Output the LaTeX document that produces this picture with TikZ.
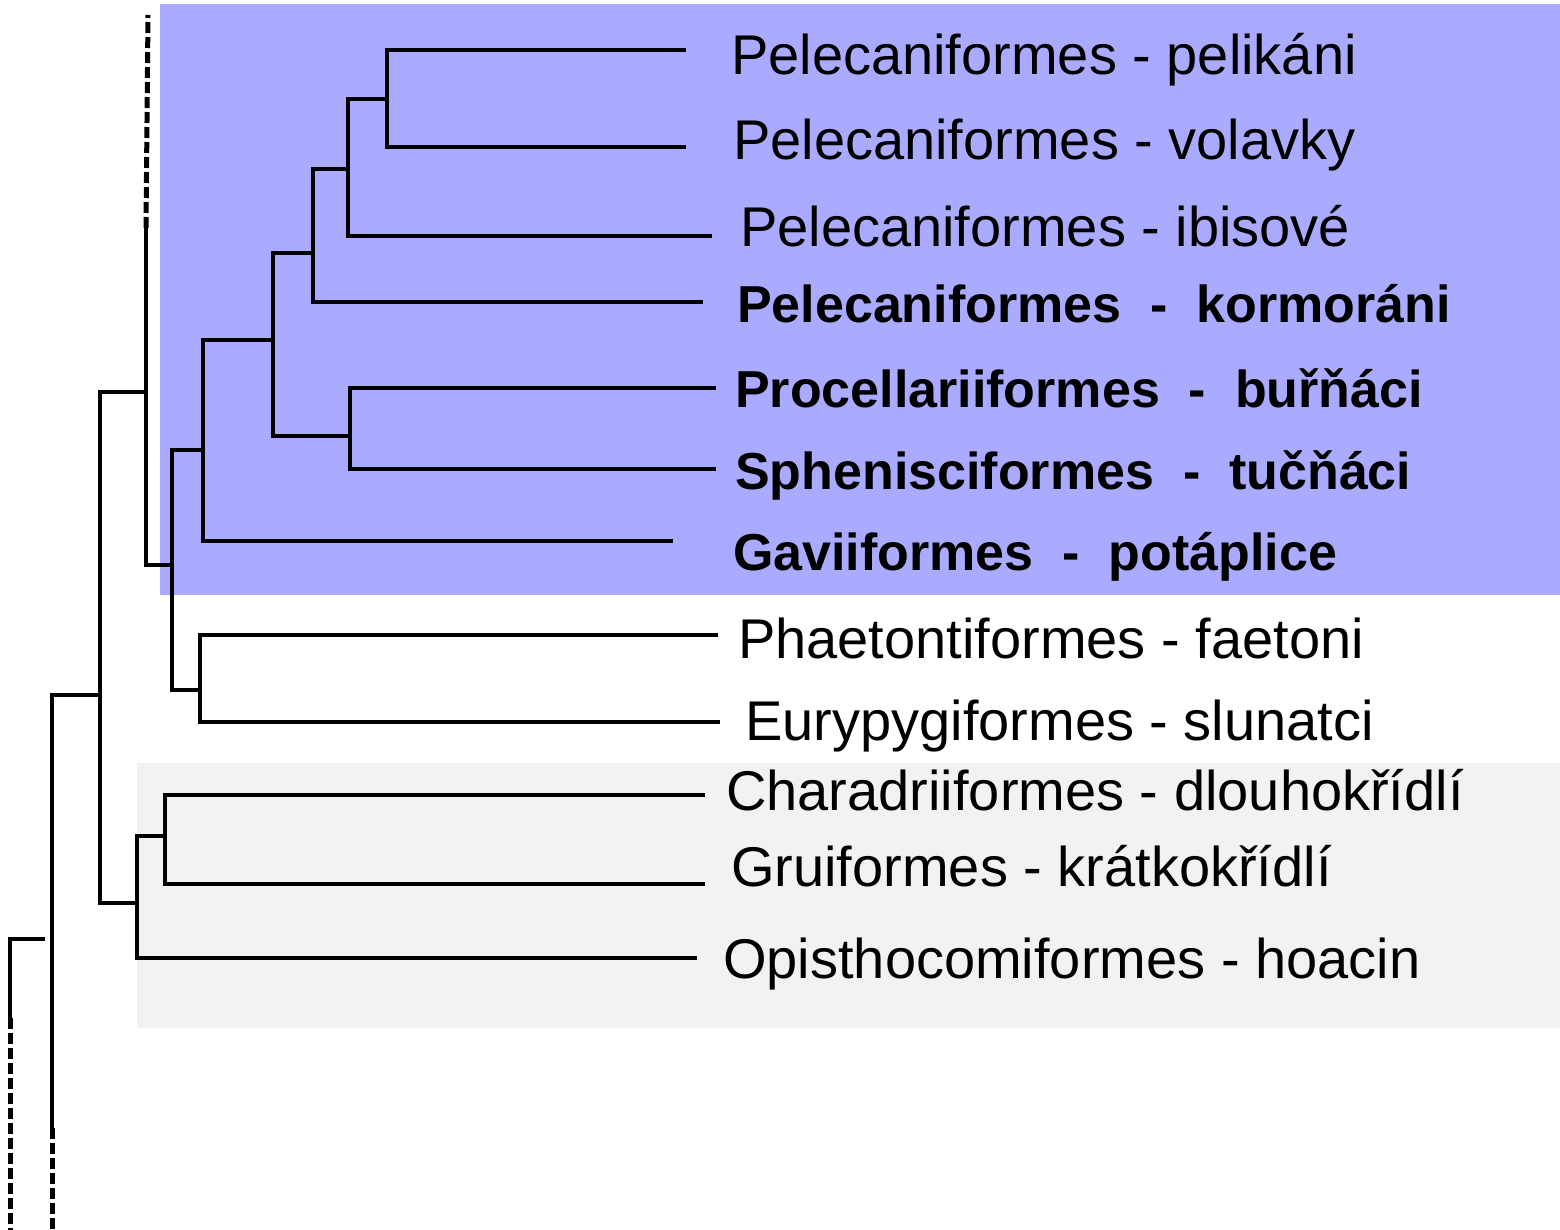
\documentclass[tikz,border=0pt]{standalone}
\usepackage{fontspec}
\setmainfont{Liberation Sans}
\usetikzlibrary{positioning}
\definecolor{cladeblue}{RGB}{170,170,255}
\definecolor{cladegray}{RGB}{242,242,242}

\begin{document}
\begin{tikzpicture}[
    x=1pt, y=-1pt,
    branch/.style={line width=4.2pt},
    stem/.style={line width=5pt, dash pattern=on 11pt off 4pt},
    taxon/.style={anchor=base west, inner sep=0pt, font=\fontsize{56}{60}\selectfont},
    keytaxon/.style={taxon, font=\fontsize{52}{60}\selectfont\bfseries}
]
\useasboundingbox (0,0) rectangle (1560,1230);

% Highlighted groups
\fill[cladeblue] (160,4) rectangle (1560,595);
\fill[cladegray] (137,763) rectangle (1560,1028);

% Taxa
\node[taxon] (pel) at (731,75) {Pelecaniformes - pelikáni};
\node[taxon] (vol) at (733,160) {Pelecaniformes - volavky};
\node[taxon] (ibi) at (740,247) {Pelecaniformes - ibisové};
\node[keytaxon] (kor) at (737,323) {Pelecaniformes\ \ -\ \ kormoráni};
\node[keytaxon] (bur) at (735,407) {Procellariiformes\ \ -\ \ buřňáci};
\node[keytaxon] (tuc) at (735,489) {Sphenisciformes\ \ -\ \ tučňáci};
\node[keytaxon] (gav) at (733,570) {Gaviiformes\ \ -\ \ potáplice};
\node[taxon] (fae) at (738,658) {Phaetontiformes - faetoni};
\node[taxon] (slu) at (745,740) {Eurypygiformes - slunatci};
\node[taxon] (cha) at (726,810) {Charadriiformes - dlouhokřídlí};
\node[taxon] (gru) at (731,886) {Gruiformes - krátkokřídlí};
\node[taxon] (hoa) at (723,978) {Opisthocomiformes - hoacin};

% Branch tips
\coordinate (pelT) at (686,50);
\coordinate (volT) at (686,147);
\coordinate (ibiT) at (712,236);
\coordinate (korT) at (703,302);
\coordinate (burT) at (716,388);
\coordinate (tucT) at (716,469);
\coordinate (gavT) at (673,541);
\coordinate (faeT) at (718,635);
\coordinate (sluT) at (720,722);
\coordinate (chaT) at (705,795);
\coordinate (gruT) at (705,884);
\coordinate (hoaT) at (697,958);

% Inner nodes
\coordinate (nA) at (387,99);
\coordinate (nB) at (348,169);
\coordinate (nC) at (313,253);
\coordinate (nE) at (350,436);
\coordinate (nD) at (273,340);
\coordinate (nF) at (203,450);
\coordinate (nH) at (200,690);
\coordinate (nG) at (172,565);
\coordinate (nI) at (146,392);
\coordinate (nItop) at (146,228);
\coordinate (nIend) at (148,15);
\coordinate (nK) at (165,836);
\coordinate (nL) at (137,903);
\coordinate (nJ) at (100,695);
\coordinate (nM) at (52,939);
\coordinate (nMend) at (52,1128);
\coordinate (nMbot) at (52,1230);
\coordinate (nN) at (10,1018);
\coordinate (nNbot) at (10,1230);

% Branches
\draw[branch] (nA) |- (pelT);
\draw[branch] (nA) |- (volT);
\draw[branch] (nB) |- (nA);
\draw[branch] (nB) |- (ibiT);
\draw[branch] (nC) |- (nB);
\draw[branch] (nC) |- (korT);
\draw[branch] (nE) |- (burT);
\draw[branch] (nE) |- (tucT);
\draw[branch] (nD) |- (nC);
\draw[branch] (nD) |- (nE);
\draw[branch] (nF) |- (nD);
\draw[branch] (nF) |- (gavT);
\draw[branch] (nH) |- (faeT);
\draw[branch] (nH) |- (sluT);
\draw[branch] (nG) |- (nF);
\draw[branch] (nG) |- (nH);
\draw[branch] (nI) |- (nG);
\draw[branch] (nI) -- (nItop);
\draw[stem] (nItop) -- (nIend);
\draw[branch] (nK) |- (chaT);
\draw[branch] (nK) |- (gruT);
\draw[branch] (nL) |- (nK);
\draw[branch] (nL) |- (hoaT);
\draw[branch] (nJ) |- (nI);
\draw[branch] (nJ) |- (nL);
\draw[branch] (nM) |- (nJ);
\draw[branch] (nM) -- (nMend);
\draw[stem] (nMend) -- (nMbot);
\draw[branch, shorten >=7pt] (nN) |- (nM);
\draw[stem] (nN) -- (nNbot);

\end{tikzpicture}
\end{document}
